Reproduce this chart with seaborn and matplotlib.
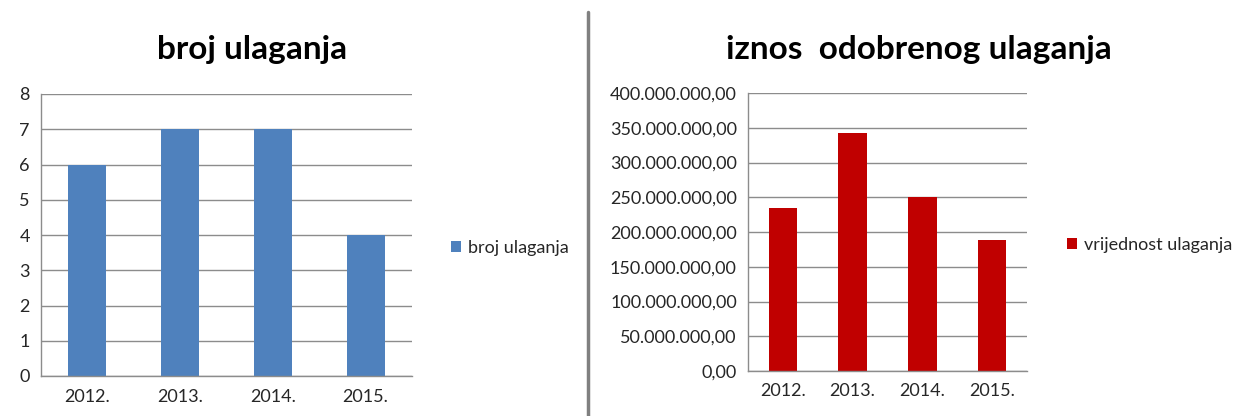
import seaborn as sns
import pandas as pd
from matplotlib import pyplot as plt
from matplotlib.lines import Line2D
from matplotlib.ticker import FuncFormatter, FixedLocator

years = ['2012.', '2013.', '2014.', '2015.']
broj = [6, 7, 7, 4]
iznos = [235_000_000, 342_000_000, 250_000_000, 189_000_000]

BLUE = '#4F81BD'
RED = '#C00000'
GRID = '#8C8C8C'
FONT = ['Lato', 'DejaVu Sans']


def hr_fmt(v, _pos):
    s = f'{v:,.2f}'
    return s.replace(',', 'X').replace('.', ',').replace('X', '.')


def style_axes(ax, ymax, step):
    ax.set_xlim(-0.5, 3.5)
    ax.set_ylim(0, ymax)
    ax.set_yticks([i * step for i in range(int(round(ymax / step)) + 1)])
    ax.yaxis.grid(True, color=GRID, linewidth=1)
    ax.xaxis.grid(False)
    ax.set_axisbelow(True)
    for side in ['top', 'right']:
        ax.spines[side].set_visible(False)
    for side in ['left', 'bottom']:
        ax.spines[side].set_color(GRID)
        ax.spines[side].set_linewidth(1)
    ax.xaxis.set_minor_locator(FixedLocator([-0.5, 0.5, 1.5, 2.5, 3.5]))
    ax.tick_params(axis='x', which='major', length=0, pad=9, labelsize=13, labelcolor='#262626')
    ax.tick_params(axis='x', which='minor', length=5, color=GRID, direction='out')
    ax.tick_params(axis='y', length=5, color=GRID, pad=3, labelsize=13, labelcolor='#262626')
    ax.set_xlabel('')
    ax.set_ylabel('')


sns.set_theme(style='white')
plt.rcParams['font.family'] = FONT

fig = plt.figure(figsize=(12.38, 4.16), dpi=100)
W, H = 1238, 416

ax1 = fig.add_axes([41 / W, 1 - 376 / H, (412 - 41) / W, (376 - 94) / H])
df1 = pd.DataFrame({'year': years, 'val': broj})
sns.barplot(data=df1, x='year', y='val', color=BLUE, width=0.41, ax=ax1,
            label='broj ulaganja', saturation=1, edgecolor='none')
style_axes(ax1, 8, 1)
ax1.legend(loc='center left', bbox_to_anchor=(435 / W, 1 - 248 / H), bbox_transform=fig.transFigure,
           frameon=False, fontsize=13, handlelength=0.55, handleheight=0.55, handletextpad=0.35)

ax2 = fig.add_axes([748 / W, 1 - 371 / H, (1027 - 748) / W, (371 - 93) / H])
df2 = pd.DataFrame({'year': years, 'val': iznos})
sns.barplot(data=df2, x='year', y='val', color=RED, width=0.41, ax=ax2,
            label='vrijednost ulaganja', saturation=1, edgecolor='none')
style_axes(ax2, 400_000_000, 50_000_000)
ax2.yaxis.set_major_formatter(FuncFormatter(hr_fmt))
ax2.legend(loc='center left', bbox_to_anchor=(1051 / W, 1 - 245 / H), bbox_transform=fig.transFigure,
           frameon=False, fontsize=13, handlelength=0.55, handleheight=0.55, handletextpad=0.35)

fig.text(252 / W, 1 - 49 / H, 'broj ulaganja', ha='center', va='center',
         fontsize=24, fontweight='bold', color='#000000')
fig.text(919 / W, 1 - 49 / H, 'iznos  odobrenog ulaganja', ha='center', va='center',
         fontsize=24, fontweight='bold', color='#000000')

fig.add_artist(Line2D([588 / W, 588 / W], [0, 1 - 12 / H], transform=fig.transFigure,
                      color='#808080', linewidth=2.5))

fig.savefig('out.png', dpi=100)
